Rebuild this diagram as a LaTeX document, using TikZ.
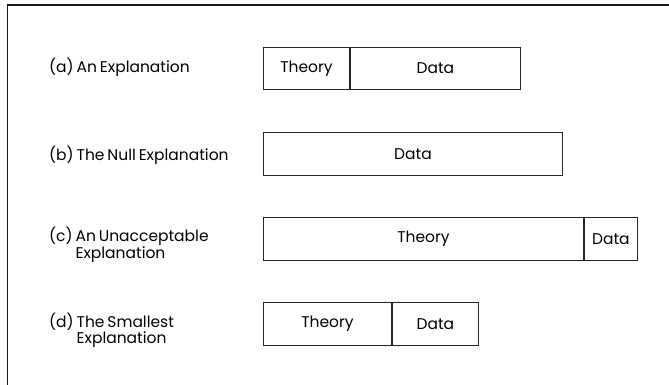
\documentclass[tikz,border=0pt]{standalone}
\usepackage{fontspec}
\setmainfont{Poppins}[WordSpace=0.7]
% caption font with fixed line spacing
\newcommand\captionfont{\fontsize{15.5}{16.5}\selectfont\lineskiplimit -20pt\relax}
\begin{document}
\begin{tikzpicture}[x=1pt,y=-1pt,
  seg/.style={draw=black!85,line width=0.9pt,rectangle,inner sep=0pt,
    minimum height=42.5pt,anchor=west,font=\fontsize{15.5}{15}\selectfont},
  caption/.style={anchor=west,align=left,inner sep=0pt,font=\captionfont}]
  \useasboundingbox (0,0) rectangle (669,385);
  % frame: top rule and left rule
  \coordinate (tl) at (7.5,5);
  \coordinate (tr) at (669,5);
  \coordinate (bl) at (7.5,385);
  \draw[line width=1.3pt,black!90] (tr) -- (tl) -- (bl);

  % (a) An Explanation
  \node[caption] (la) at (49,67) {(a) An Explanation};
  \node[seg,minimum width=86pt] (ta) at (263,68.5) {Theory};
  \node[seg,minimum width=170pt] (da) at (ta.east) {Data};

  % (b) The Null Explanation
  \node[caption] (lb) at (49,155) {(b) The Null Explanation};
  \node[seg,minimum width=299pt] (db) at (263,154) {Data};

  % (c) An Unacceptable Explanation
  \node[caption] (lc) at (49,245) {(c) An Unacceptable\\\phantom{(c) }Explanation};
  \node[seg,minimum width=320pt] (tc) at (263,239) {Theory};
  \node[seg,minimum width=53pt] (dc) at (tc.east) {Data};

  % (d) The Smallest Explanation
  \node[caption] (ld) at (49,330.5) {(d) The Smallest\\\phantom{(d) }Explanation};
  \node[seg,minimum width=128pt] (td) at (263,324) {Theory};
  \node[seg,minimum width=86pt] (dd) at (td.east) {Data};
\end{tikzpicture}
\end{document}
